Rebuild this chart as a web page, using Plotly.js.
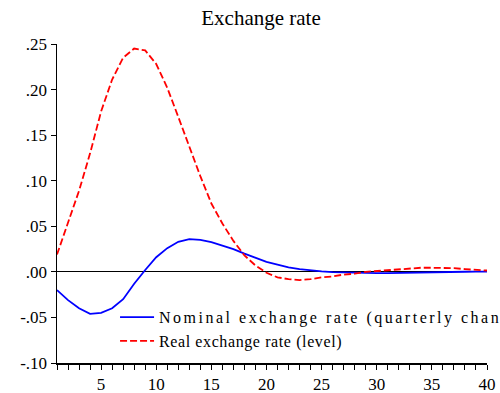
<!DOCTYPE html>
<html><head><meta charset="utf-8">
<script src="https://cdn.plot.ly/plotly-3.0.1.min.js"></script>
<style>
body{margin:0;background:#fff}
.legend .scrollbox{clip-path:none !important}
.legend .traces:nth-child(1) .legendtext{letter-spacing:2.5px}
.legend .traces:nth-child(2) .legendtext{letter-spacing:0.6px}
</style>
</head><body><div id="chart" style="width:500px;height:393px"></div>
<script>
const quarters = [1,2,3,4,5,6,7,8,9,10,11,12,13,14,15,16,17,18,19,20,21,22,23,24,25,26,27,28,29,30,31,32,33,34,35,36,37,38,39,40];
const nominal = [-0.020,-0.031,-0.040,-0.046,-0.045,-0.040,-0.030,-0.013,0.002,0.016,0.026,0.033,0.036,0.035,0.0325,0.029,0.025,0.020,0.0155,0.011,0.008,0.005,0.003,0.0015,0.0005,-0.0003,-0.0008,-0.0012,-0.0015,-0.0015,-0.0013,-0.001,-0.0008,-0.0006,-0.0004,-0.0002,0.0,0.0001,0.0002,0.0003];
const real = [0.019,0.054,0.089,0.130,0.176,0.211,0.235,0.245,0.243,0.228,0.202,0.170,0.137,0.105,0.075,0.053,0.034,0.018,0.007,-0.001,-0.006,-0.008,-0.009,-0.008,-0.006,-0.005,-0.003,-0.002,0.0,0.001,0.002,0.003,0.004,0.0045,0.0045,0.0045,0.004,0.003,0.002,0.0015];
const seriesNames = ['Nominal exchange rate (quarterly change)','Real exchange rate (level)'];
const chartTitle = 'Exchange rate';
const yTickVals = [-0.10,-0.05,0.00,0.05,0.10,0.15,0.20,0.25];
const yTickText = ['-.10','-.05','.00','.05','.10','.15','.20','.25'];
const xTickVals = [5,10,15,20,25,30,35,40];

const serif = 'Liberation Serif, Times New Roman, serif';

const traces = [
  {x: quarters, y: nominal, type:'scatter', mode:'lines', name: seriesNames[0],
   line:{color:'#0000ff', width:1.8}},
  {x: quarters, y: real, type:'scatter', mode:'lines', name: seriesNames[1],
   line:{color:'#ff0000', width:1.8, dash:'7px,3px'}}
];

const layout = {
  width:500, height:393,
  margin:{l:57, r:13, t:44, b:30},
  paper_bgcolor:'#fff', plot_bgcolor:'#fff',
  font:{family:serif, color:'#000', size:17},
  title:{text: chartTitle, x:0.522, xanchor:'center', xref:'container', y:0.955, yanchor:'middle',
         font:{family:serif, size:21, color:'#000'}},
  xaxis:{range:[1,40], showgrid:false, zeroline:false, showline:true, linecolor:'#000', linewidth:1.5,
         tickmode:'array', tickvals:xTickVals, ticks:'outside', ticklen:5, tickcolor:'#000', tickwidth:1,
         minor:{dtick:1, tick0:0, ticks:'outside', ticklen:5, tickcolor:'#000', tickwidth:1, showgrid:false},
         tickfont:{family:serif, size:17, color:'#000'}, fixedrange:true},
  yaxis:{range:[-0.10,0.25], showgrid:false, zeroline:true, zerolinecolor:'#000', zerolinewidth:1,
         showline:true, linecolor:'#000', linewidth:1.5,
         tickmode:'array', tickvals:yTickVals, ticktext:yTickText, ticks:'outside', ticklen:5, tickcolor:'#000', tickwidth:1,
         tickfont:{family:serif, size:17, color:'#000'}, fixedrange:true},
  showlegend:true,
  legend:{x:0.135, xanchor:'left', y:0.015, yanchor:'bottom', bgcolor:'rgba(0,0,0,0)', borderwidth:0,
          font:{family:serif, size:16, color:'#000'}, tracegroupgap:0, itemwidth:34}
};

Plotly.newPlot('chart', traces, layout, {displayModeBar:false, staticPlot:true});
</script>
</body></html>
